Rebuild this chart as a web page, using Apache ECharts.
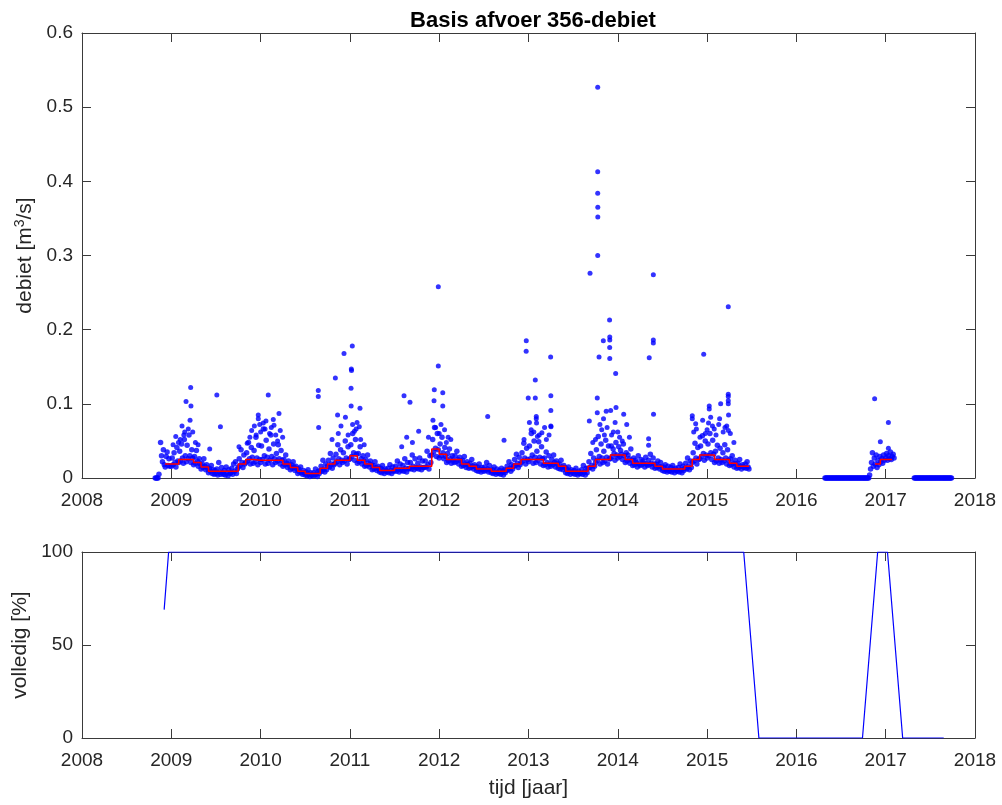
<!DOCTYPE html>
<html>
<head>
<meta charset="utf-8">
<title>Basis afvoer 356-debiet</title>
<script src="https://cdn.jsdelivr.net/npm/echarts@6/dist/echarts.min.js"></script>
<style>
  html, body { margin: 0; padding: 0; background: #ffffff; }
  #chart { width: 1002px; height: 805px; }
</style>
</head>
<body>
<div id="chart"></div>
<script>
// ---- daily discharge (m3/s), eight samples per month --------------------
const flowStep = 1 / 96;

const leadStart = 2008.82;
const leadZeros = [0, 0, 0, 0, 0.005];

const flow2008Start = 2008.88;
const flow2008 = [0.048, 0.030, 0.022, 0.038, 0.018, 0.015, 0.029, 0.035, 0.017, 0.026, 0.016];

const flow2009 = [
  0.016, 0.027, 0.018, 0.034, 0.021, 0.015, 0.041, 0.023,
  0.021, 0.036, 0.023, 0.046, 0.027, 0.020, 0.052, 0.030,
  0.022, 0.044, 0.026, 0.058, 0.030, 0.021, 0.038, 0.027,
  0.018, 0.029, 0.020, 0.037, 0.023, 0.016, 0.026, 0.019,
  0.012, 0.020, 0.014, 0.026, 0.016, 0.011, 0.018, 0.013,
  0.007, 0.013, 0.009, 0.017, 0.006, 0.011, 0.005, 0.010,
  0.006, 0.012, 0.004, 0.021, 0.008, 0.005, 0.014, 0.007,
  0.005, 0.010, 0.004, 0.015, 0.007, 0.003, 0.011, 0.006,
  0.007, 0.013, 0.005, 0.019, 0.009, 0.022, 0.006, 0.012,
  0.015, 0.026, 0.017, 0.038, 0.021, 0.014, 0.031, 0.019,
  0.021, 0.034, 0.023, 0.048, 0.026, 0.019, 0.041, 0.028,
  0.020, 0.037, 0.022, 0.055, 0.027, 0.018, 0.044, 0.025
];

const flow2010 = [
  0.021, 0.043, 0.025, 0.066, 0.030, 0.019, 0.051, 0.028,
  0.020, 0.039, 0.024, 0.058, 0.029, 0.018, 0.046, 0.026,
  0.021, 0.033, 0.023, 0.045, 0.026, 0.019, 0.037, 0.024,
  0.016, 0.025, 0.018, 0.031, 0.020, 0.014, 0.023, 0.017,
  0.011, 0.018, 0.013, 0.022, 0.015, 0.010, 0.016, 0.012,
  0.006, 0.012, 0.008, 0.015, 0.007, 0.005, 0.010, 0.007,
  0.004, 0.008, 0.003, 0.011, 0.005, 0.002, 0.007, 0.004,
  0.003, 0.007, 0.004, 0.012, 0.005, 0.002, 0.009, 0.006,
  0.010, 0.016, 0.009, 0.024, 0.012, 0.008, 0.019, 0.011,
  0.016, 0.024, 0.015, 0.033, 0.019, 0.013, 0.027, 0.018,
  0.020, 0.032, 0.022, 0.045, 0.026, 0.018, 0.038, 0.024,
  0.021, 0.034, 0.023, 0.050, 0.027, 0.019, 0.042, 0.025
];

const flow2011 = [
  0.026, 0.045, 0.029, 0.060, 0.034, 0.024, 0.052, 0.032,
  0.020, 0.033, 0.022, 0.042, 0.026, 0.019, 0.030, 0.023,
  0.016, 0.025, 0.017, 0.031, 0.020, 0.015, 0.023, 0.018,
  0.011, 0.017, 0.012, 0.022, 0.014, 0.010, 0.016, 0.012,
  0.008, 0.013, 0.007, 0.017, 0.010, 0.006, 0.012, 0.009,
  0.008, 0.013, 0.007, 0.018, 0.010, 0.006, 0.015, 0.009,
  0.010, 0.016, 0.009, 0.023, 0.012, 0.008, 0.019, 0.011,
  0.010, 0.017, 0.009, 0.026, 0.013, 0.008, 0.021, 0.012,
  0.013, 0.021, 0.012, 0.031, 0.016, 0.011, 0.026, 0.014,
  0.013, 0.020, 0.012, 0.027, 0.015, 0.011, 0.023, 0.014,
  0.014, 0.023, 0.015, 0.036, 0.018, 0.012, 0.030, 0.021,
  0.031, 0.052, 0.035, 0.068, 0.040, 0.029, 0.060, 0.038
];

const flow2012 = [
  0.027, 0.046, 0.030, 0.055, 0.034, 0.026, 0.041, 0.029,
  0.021, 0.033, 0.023, 0.039, 0.026, 0.020, 0.030, 0.024,
  0.021, 0.030, 0.022, 0.036, 0.025, 0.019, 0.028, 0.023,
  0.016, 0.024, 0.017, 0.029, 0.019, 0.014, 0.022, 0.018,
  0.013, 0.020, 0.014, 0.025, 0.016, 0.012, 0.018, 0.015,
  0.010, 0.015, 0.009, 0.019, 0.012, 0.008, 0.014, 0.011,
  0.009, 0.015, 0.010, 0.021, 0.012, 0.008, 0.017, 0.010,
  0.007, 0.011, 0.006, 0.015, 0.008, 0.005, 0.012, 0.007,
  0.006, 0.010, 0.005, 0.013, 0.008, 0.004, 0.011, 0.007,
  0.010, 0.016, 0.011, 0.022, 0.013, 0.009, 0.018, 0.012,
  0.016, 0.025, 0.017, 0.032, 0.020, 0.014, 0.028, 0.018,
  0.021, 0.034, 0.023, 0.047, 0.027, 0.019, 0.040, 0.025
];

const flow2013 = [
  0.022, 0.043, 0.026, 0.060, 0.031, 0.020, 0.050, 0.028,
  0.021, 0.036, 0.024, 0.049, 0.028, 0.019, 0.042, 0.026,
  0.017, 0.027, 0.018, 0.035, 0.021, 0.015, 0.030, 0.019,
  0.016, 0.025, 0.018, 0.031, 0.021, 0.015, 0.023, 0.019,
  0.013, 0.019, 0.012, 0.024, 0.015, 0.011, 0.017, 0.014,
  0.007, 0.012, 0.006, 0.015, 0.009, 0.005, 0.011, 0.008,
  0.006, 0.010, 0.005, 0.013, 0.007, 0.004, 0.009, 0.006,
  0.006, 0.011, 0.005, 0.017, 0.008, 0.004, 0.013, 0.007,
  0.013, 0.022, 0.014, 0.033, 0.017, 0.012, 0.027, 0.016,
  0.021, 0.038, 0.024, 0.056, 0.029, 0.019, 0.046, 0.027,
  0.021, 0.036, 0.023, 0.051, 0.028, 0.019, 0.043, 0.026,
  0.026, 0.043, 0.029, 0.039, 0.033, 0.024, 0.048, 0.031
];

const flow2014 = [
  0.027, 0.042, 0.029, 0.037, 0.032, 0.025, 0.046, 0.030,
  0.021, 0.034, 0.023, 0.031, 0.026, 0.020, 0.039, 0.024,
  0.017, 0.027, 0.018, 0.024, 0.021, 0.015, 0.030, 0.019,
  0.017, 0.025, 0.018, 0.023, 0.020, 0.015, 0.028, 0.019,
  0.017, 0.024, 0.018, 0.032, 0.020, 0.015, 0.027, 0.019,
  0.013, 0.019, 0.014, 0.023, 0.016, 0.012, 0.021, 0.015,
  0.010, 0.015, 0.009, 0.018, 0.011, 0.008, 0.016, 0.010,
  0.009, 0.014, 0.008, 0.017, 0.011, 0.007, 0.013, 0.010,
  0.009, 0.014, 0.008, 0.019, 0.011, 0.007, 0.016, 0.010,
  0.013, 0.020, 0.012, 0.027, 0.016, 0.011, 0.023, 0.014,
  0.021, 0.034, 0.023, 0.047, 0.027, 0.019, 0.041, 0.025,
  0.026, 0.043, 0.029, 0.057, 0.033, 0.024, 0.050, 0.031
];

const flow2015 = [
  0.027, 0.046, 0.030, 0.060, 0.034, 0.025, 0.051, 0.032,
  0.021, 0.036, 0.023, 0.044, 0.027, 0.020, 0.040, 0.025,
  0.021, 0.034, 0.023, 0.045, 0.027, 0.019, 0.038, 0.024,
  0.017, 0.026, 0.018, 0.030, 0.020, 0.015, 0.024, 0.019,
  0.013, 0.020, 0.014, 0.025, 0.016, 0.012, 0.018, 0.015,
  0.014, 0.019, 0.013, 0.022, 0.015, 0.012
];

const flow2016Start = 2016.82;
const flow2016 = [0.004, 0.012, 0.021, 0.034, 0.016, 0.027, 0.019, 0.031, 0.014,
                  0.024, 0.018, 0.029, 0.022, 0.026, 0.020, 0.031, 0.024];
const flow2017 = [0.027, 0.033, 0.024, 0.030, 0.026, 0.035, 0.025, 0.029, 0.032, 0.027];

// logger reporting zero flow
const zeros2016Start = 2016.32;
const zeros2016 = [
  0, 0, 0, 0, 0, 0, 0, 0, 0, 0, 0, 0, 0, 0, 0, 0,
  0, 0, 0, 0, 0, 0, 0, 0, 0, 0, 0, 0, 0, 0, 0, 0,
  0, 0, 0, 0, 0, 0, 0, 0, 0, 0, 0, 0, 0, 0, 0, 0
];
const zeros2017Start = 2017.32;
const zeros2017 = [
  0, 0, 0, 0, 0, 0, 0, 0, 0, 0, 0, 0, 0, 0, 0, 0,
  0, 0, 0, 0, 0, 0, 0, 0, 0, 0, 0, 0, 0, 0, 0, 0,
  0, 0, 0, 0, 0, 0, 0, 0, 0
];

// peak discharges [year, m3/s]
const peaks = [
  [2009.02, 0.045], [2009.05, 0.056], [2009.08, 0.048], [2009.10, 0.052], [2009.12, 0.070],
  [2009.14, 0.058], [2009.15, 0.062], [2009.165, 0.103], [2009.19, 0.066], [2009.21, 0.078],
  [2009.217, 0.122], [2009.22, 0.097], [2009.24, 0.062], [2009.27, 0.048], [2009.30, 0.045],
  [2009.43, 0.039], [2009.51, 0.112], [2009.55, 0.069],
  [2009.758, 0.042], [2009.85, 0.047], [2009.88, 0.055], [2009.90, 0.064], [2009.93, 0.070],
  [2009.95, 0.058], [2009.974, 0.085], [2009.974, 0.080], [2009.99, 0.072], [2010.00, 0.062],
  [2010.03, 0.074], [2010.05, 0.066], [2010.06, 0.077], [2010.086, 0.112], [2010.10, 0.060],
  [2010.12, 0.068], [2010.142, 0.079], [2010.15, 0.071], [2010.17, 0.058], [2010.19, 0.050],
  [2010.206, 0.087], [2010.22, 0.064], [2010.247, 0.055],
  [2010.646, 0.118], [2010.646, 0.110], [2010.65, 0.068], [2010.80, 0.052], [2010.837, 0.135],
  [2010.862, 0.085], [2010.87, 0.060], [2010.90, 0.070], [2010.934, 0.168], [2010.95, 0.082],
  [2010.98, 0.058], [2011.013, 0.121], [2011.014, 0.097], [2011.016, 0.147], [2011.018, 0.145],
  [2011.027, 0.178], [2011.03, 0.072], [2011.05, 0.063], [2011.07, 0.066], [2011.08, 0.075],
  [2011.105, 0.069], [2011.113, 0.094], [2011.12, 0.052], [2011.16, 0.045],
  [2011.58, 0.042], [2011.606, 0.111], [2011.636, 0.055], [2011.673, 0.102], [2011.70, 0.048],
  [2011.77, 0.063], [2011.88, 0.055], [2011.93, 0.078], [2011.942, 0.104], [2011.945, 0.119],
  [2011.96, 0.068], [2011.99, 0.151], [2011.99, 0.258], [2012.00, 0.060], [2012.02, 0.072],
  [2012.04, 0.115], [2012.04, 0.097], [2012.06, 0.065], [2012.08, 0.048], [2012.10, 0.055],
  [2012.13, 0.052], [2012.543, 0.083], [2012.726, 0.051],
  [2012.95, 0.052], [2012.974, 0.171], [2012.975, 0.185], [2012.997, 0.108], [2013.01, 0.075],
  [2013.03, 0.065], [2013.06, 0.062], [2013.076, 0.132], [2013.076, 0.108], [2013.087, 0.083],
  [2013.087, 0.080], [2013.09, 0.074], [2013.10, 0.056], [2013.12, 0.058], [2013.15, 0.061],
  [2013.18, 0.068], [2013.20, 0.052], [2013.23, 0.058], [2013.248, 0.163], [2013.25, 0.111],
  [2013.25, 0.091], [2013.25, 0.070], [2013.252, 0.069],
  [2013.681, 0.077], [2013.689, 0.276], [2013.72, 0.048], [2013.75, 0.052], [2013.77, 0.108],
  [2013.77, 0.088], [2013.775, 0.527], [2013.775, 0.413], [2013.775, 0.384], [2013.776, 0.365],
  [2013.776, 0.352], [2013.775, 0.300], [2013.79, 0.163], [2013.80, 0.072], [2013.82, 0.065],
  [2013.838, 0.185], [2013.84, 0.080], [2013.85, 0.058], [2013.87, 0.090], [2013.88, 0.068],
  [2013.908, 0.213], [2013.91, 0.190], [2013.91, 0.186], [2013.909, 0.176], [2013.91, 0.161],
  [2013.92, 0.091], [2013.93, 0.058], [2013.95, 0.062], [2013.97, 0.075], [2013.976, 0.141],
  [2013.98, 0.095], [2014.00, 0.062], [2014.02, 0.055], [2014.05, 0.050], [2014.066, 0.086],
  [2014.10, 0.072], [2014.13, 0.055],
  [2014.345, 0.053], [2014.345, 0.044], [2014.352, 0.162], [2014.398, 0.274], [2014.398, 0.186],
  [2014.398, 0.182], [2014.40, 0.086],
  [2014.834, 0.084], [2014.834, 0.080], [2014.85, 0.062], [2014.872, 0.073], [2014.88, 0.066],
  [2014.92, 0.055], [2014.95, 0.078], [2014.962, 0.167], [2014.98, 0.060], [2015.00, 0.065],
  [2015.016, 0.074], [2015.024, 0.097], [2015.024, 0.093], [2015.04, 0.082], [2015.06, 0.070],
  [2015.08, 0.066], [2015.10, 0.058], [2015.13, 0.072], [2015.14, 0.080], [2015.152, 0.100],
  [2015.18, 0.062], [2015.20, 0.068], [2015.22, 0.070], [2015.237, 0.104], [2015.237, 0.100],
  [2015.237, 0.113], [2015.237, 0.110], [2015.237, 0.231], [2015.238, 0.064], [2015.24, 0.085],
  [2015.26, 0.060], [2015.30, 0.048],
  [2016.876, 0.107], [2016.94, 0.049], [2017.03, 0.075], [2017.03, 0.040]
];

// ---- base flow, monthly values (m3/s) from Dec 2008 ----------------------
const baseFirstX = 2008.93;
const baseLastX = 2015.47;
const baseMonthly = [
  0.019,
  0.019, 0.025, 0.025, 0.021, 0.015, 0.009, 0.009, 0.009, 0.009, 0.019, 0.025, 0.024,
  0.024, 0.024, 0.024, 0.019, 0.014, 0.009, 0.006, 0.006, 0.013, 0.019, 0.024, 0.024,
  0.030, 0.024, 0.019, 0.014, 0.010, 0.010, 0.013, 0.013, 0.016, 0.016, 0.016, 0.039,
  0.032, 0.025, 0.025, 0.019, 0.016, 0.012, 0.012, 0.009, 0.009, 0.013, 0.019, 0.025,
  0.025, 0.025, 0.020, 0.020, 0.016, 0.009, 0.009, 0.009, 0.016, 0.025, 0.025, 0.031,
  0.031, 0.025, 0.020, 0.020, 0.020, 0.016, 0.012, 0.012, 0.012, 0.016, 0.025, 0.031,
  0.031, 0.025, 0.025, 0.020, 0.016, 0.016
];
const baseLate = [[2016.88, 0.019], [2016.94, 0.025], [2017.07, 0.025]];

// ---- completeness of the record (%) --------------------------------------
const completeness = [
  [2008.92, 69], [2008.97, 100], [2015.41, 100], [2015.58, 0], [2016.74, 0],
  [2016.91, 100], [2017.02, 100], [2017.19, 0], [2017.65, 0]
];

// ---- axis ranges -----------------------------------------------------------
const yearMin = 2008, yearMax = 2018;
const flowMax = 0.6, flowTick = 0.1;
const pctMax = 100, pctTick = 50;

// ---- assemble series data -------------------------------------------------
const flowPoints = [];
function addRun(start, values) {
  values.forEach((v, i) => flowPoints.push([start + i * flowStep, v]));
}
addRun(leadStart, leadZeros);
addRun(flow2008Start, flow2008);
addRun(2009, flow2009);
addRun(2010, flow2010);
addRun(2011, flow2011);
addRun(2012, flow2012);
addRun(2013, flow2013);
addRun(2014, flow2014);
addRun(2015, flow2015);
addRun(zeros2016Start, zeros2016);
addRun(flow2016Start, flow2016);
addRun(2017, flow2017);
addRun(zeros2017Start, zeros2017);

const basePoints = baseMonthly.map((v, i) => [i === 0 ? baseFirstX : 2008 + (11 + i) / 12, v]);
basePoints.push([baseLastX, baseMonthly[baseMonthly.length - 1]]);

const FONT = 'Liberation Sans, Arial, Helvetica, sans-serif';
const INK = '#262626';
const FRAME = '#3a3a3a';
const TICK_FONT = 19;
const NAME_FONT = 21;

function xAxisFor(gridIndex, pos, showLabels, name) {
  return {
    type: 'value', gridIndex, position: pos, min: yearMin, max: yearMax, interval: 1,
    name: name || '', nameLocation: 'middle', nameGap: 40,
    nameTextStyle: { fontFamily: FONT, fontSize: NAME_FONT, color: INK },
    axisLine: { show: true, onZero: false, lineStyle: { color: FRAME, width: 1 } },
    axisTick: { show: true, inside: true, length: 9, lineStyle: { color: FRAME } },
    axisLabel: { show: showLabels, margin: 13, fontFamily: FONT, fontSize: TICK_FONT, color: INK,
                 formatter: v => String(v) },
    splitLine: { show: false }
  };
}
function yAxisFor(gridIndex, pos, showLabels, max, interval, name, extra) {
  return Object.assign({
    type: 'value', gridIndex, position: pos, min: 0, max, interval,
    name: name || '', nameLocation: 'middle', nameGap: 44, nameRotate: 90,
    nameTextStyle: { fontFamily: FONT, fontSize: NAME_FONT, color: INK },
    axisLine: { show: true, onZero: false, lineStyle: { color: FRAME, width: 1 } },
    axisTick: { show: true, inside: true, length: 9, lineStyle: { color: FRAME } },
    axisLabel: { show: showLabels, margin: 9, fontFamily: FONT, fontSize: TICK_FONT, color: INK },
    splitLine: { show: false }
  }, extra || {});
}

const chart = echarts.init(document.getElementById('chart'), null, { renderer: 'canvas' });
chart.setOption({
  backgroundColor: '#ffffff',
  animation: false,
  title: {
    text: 'Basis afvoer 356-debiet', left: 528, top: 5, textAlign: 'center',
    textStyle: { fontFamily: FONT, fontSize: 22, fontWeight: 'bold', color: '#000000' }
  },
  grid: [
    { left: 82, top: 33, width: 893, height: 445 },
    { left: 82, top: 552, width: 893, height: 186 }
  ],
  xAxis: [
    xAxisFor(0, 'bottom', true),
    xAxisFor(0, 'top', false),
    xAxisFor(1, 'bottom', true, 'tijd [jaar]'),
    xAxisFor(1, 'top', false)
  ],
  yAxis: [
    yAxisFor(0, 'left', true, flowMax, flowTick, 'debiet [m{sup|3}/s]', {
      nameTextStyle: {
        fontFamily: FONT, fontSize: NAME_FONT, color: INK,
        rich: { sup: { fontFamily: FONT, fontSize: 14, color: INK, verticalAlign: 'top', padding: [0, 0, 11, 0] } }
      }
    }),
    yAxisFor(0, 'right', false, flowMax, flowTick),
    yAxisFor(1, 'left', true, pctMax, pctTick, 'volledig [%]'),
    yAxisFor(1, 'right', false, pctMax, pctTick)
  ],
  series: [
    {
      name: 'debiet', type: 'scatter', xAxisIndex: 0, yAxisIndex: 0,
      data: flowPoints, symbol: 'circle', symbolSize: 5.5,
      itemStyle: { color: '#0000ff' }, z: 2, silent: true
    },
    {
      name: 'debiet pieken', type: 'scatter', xAxisIndex: 0, yAxisIndex: 0,
      data: peaks, symbol: 'circle', symbolSize: 5,
      itemStyle: { color: '#0000ff' }, z: 2, silent: true
    },
    {
      name: 'basisafvoer', type: 'line', xAxisIndex: 0, yAxisIndex: 0,
      data: basePoints, step: 'end', showSymbol: false, symbol: 'none',
      lineStyle: { color: '#ff0000', width: 1.5 }, z: 3, silent: true
    },
    {
      name: 'basisafvoer 2016', type: 'line', xAxisIndex: 0, yAxisIndex: 0,
      data: baseLate, step: 'end', showSymbol: false, symbol: 'none',
      lineStyle: { color: '#ff0000', width: 1.5 }, z: 3, silent: true
    },
    {
      name: 'volledig', type: 'line', xAxisIndex: 2, yAxisIndex: 2,
      data: completeness, showSymbol: false, symbol: 'none',
      lineStyle: { color: '#0000ff', width: 1.2 }, z: 3, silent: true
    }
  ]
});
</script>
</body>
</html>
